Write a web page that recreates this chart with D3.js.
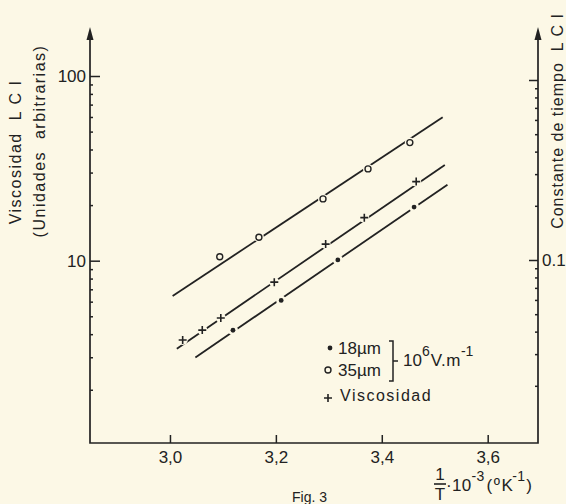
<!DOCTYPE html>
<html><head><meta charset="utf-8">
<script src="https://cdn.jsdelivr.net/npm/d3@7"></script>
<style>
html,body{margin:0;padding:0;background:#fcf8e6;}
svg{display:block;}
text{font-family:"Liberation Sans",Arial,sans-serif;fill:#222;white-space:pre;}
.tick text{font-size:17px;}
</style></head><body>
<svg id="c" width="566" height="504"></svg>
<script>
// ---- data ----
const xTicks = [3.0, 3.2, 3.4, 3.6];
const xTickLabels = ["3,0", "3,2", "3,4", "3,6"];
const yLeftMajor = [10, 100];
const yLeftMajorLabels = ["10", "100"];
const yLeftMinor = [2, 3, 4, 5, 6, 7, 8, 9, 20, 30, 40, 50, 60, 70, 80, 90];
const yRightMajor = [0.1, 1];
const yRightMajorLabels = ["0.1", ""];
const yRightMinor = [0.02, 0.03, 0.04, 0.05, 0.06, 0.07, 0.08, 0.09, 0.2, 0.3, 0.4, 0.5, 0.6, 0.7, 0.8, 0.9];

const viscX = [3.024, 3.061, 3.096, 3.197, 3.294, 3.367, 3.465];
const viscY = [3.72, 4.21, 4.89, 7.65, 12.3, 17.1, 26.8];
const um18X = [3.119, 3.210, 3.317, 3.461];
const um18Y = [4.20, 6.09, 10.1, 19.5];
const um35X = [3.094, 3.168, 3.289, 3.374, 3.453];
const um35Y = [10.5, 13.4, 21.6, 31.4, 43.6];

const fit35X = [3.005, 3.515], fit35Y = [6.44, 59.8];
const fitViscX = [3.013, 3.519], fitViscY = [3.34, 33.0];
const fit18X = [3.048, 3.524], fit18Y = [2.99, 25.8];

// ---- drawing ----
const BG = "#fcf8e6", INK = "#222";
const FONT = '"Liberation Sans", Arial, sans-serif';
const svg = d3.select("#c");
const x = d3.scaleLinear().domain([2.849, 3.695]).range([90, 538]);
const yL = d3.scaleLog().domain([1.03, 100]).range([443, 76]);
const yR = d3.scaleLog().domain([0.1, 1]).range([260, 80]);
const x0 = 90, x1 = 538, yB = 443, yTop = 27;

// axis lines
svg.append("path").attr("d", `M${x0},${yTop+6} V${yB} H${x1} V${yTop+6}`)
  .attr("fill", "none").attr("stroke", INK).attr("stroke-width", 1.7);
[x0, x1].forEach(px => {
  svg.append("path").attr("d", `M${px},${yTop} L${px-3.5},${yTop+13} L${px+3.5},${yTop+13} Z`).attr("fill", INK);
});

function styleAxis(g){
  g.attr("font-size", 17).attr("font-family", FONT);
  g.select(".domain").remove();
  g.selectAll(".tick line").attr("stroke", INK).attr("stroke-width", 1.5);
  g.selectAll(".tick text").attr("fill", INK).style("font-size", "17px");
}

// x axis
svg.append("g").attr("transform", `translate(0,${yB})`)
  .call(d3.axisBottom(x).tickValues(xTicks).tickSize(-8).tickPadding(8)
        .tickFormat((d, i) => xTickLabels[i]))
  .call(styleAxis);

// left axis
svg.append("g").attr("transform", `translate(${x0},0)`)
  .call(d3.axisLeft(yL).tickValues(yLeftMajor).tickSize(-10).tickPadding(4)
        .tickFormat((d, i) => yLeftMajorLabels[i]))
  .call(styleAxis);
svg.append("g").attr("transform", `translate(${x0},0)`)
  .call(d3.axisLeft(yL).tickValues(yLeftMinor).tickSize(-3).tickFormat(""))
  .call(styleAxis);

// right axis
svg.append("g").attr("transform", `translate(${x1},0)`)
  .call(d3.axisRight(yR).tickValues(yRightMajor).tickSize(-9).tickPadding(4)
        .tickFormat((d, i) => yRightMajorLabels[i]))
  .call(styleAxis);
svg.append("g").attr("transform", `translate(${x1},0)`)
  .call(d3.axisRight(yR).tickValues(yRightMinor).tickSize(-3).tickFormat(""))
  .call(styleAxis);

// fitted lines
const line = d3.line().x(d => x(d[0])).y(d => yL(d[1]));
[[fit35X, fit35Y], [fitViscX, fitViscY], [fit18X, fit18Y]].forEach(([xs, ys]) => {
  svg.append("path").datum(xs.map((v, i) => [v, ys[i]])).attr("d", line)
    .attr("fill", "none").attr("stroke", INK).attr("stroke-width", 1.8);
});

// halos
const allPts = [].concat(
  viscX.map((v, i) => [v, viscY[i]]),
  um18X.map((v, i) => [v, um18Y[i]]),
  um35X.map((v, i) => [v, um35Y[i]]));
svg.append("g").selectAll("circle").data(allPts).join("circle")
  .attr("cx", d => x(d[0])).attr("cy", d => yL(d[1])).attr("r", 5).attr("fill", BG);

// markers
svg.append("g").selectAll("path").data(viscX.map((v, i) => [v, viscY[i]])).join("path")
  .attr("d", d => { const cx = x(d[0]), cy = yL(d[1]); return `M${cx-4},${cy} H${cx+4} M${cx},${cy-4} V${cy+4}`; })
  .attr("stroke", INK).attr("stroke-width", 1.6);
svg.append("g").selectAll("circle").data(um18X.map((v, i) => [v, um18Y[i]])).join("circle")
  .attr("cx", d => x(d[0])).attr("cy", d => yL(d[1])).attr("r", 2.4).attr("fill", INK);
svg.append("g").selectAll("circle").data(um35X.map((v, i) => [v, um35Y[i]])).join("circle")
  .attr("cx", d => x(d[0])).attr("cy", d => yL(d[1])).attr("r", 3)
  .attr("fill", "none").attr("stroke", INK).attr("stroke-width", 1.4);

// axis titles
svg.append("text").attr("transform", "translate(21,152) rotate(-90)").attr("text-anchor", "middle")
  .style("font-size", "16px").style("letter-spacing", "1.5px").text("Viscosidad  L C I");
svg.append("text").attr("transform", "translate(45,141) rotate(-90)").attr("text-anchor", "middle")
  .style("font-size", "16px").style("letter-spacing", "1.5px").text("(Unidades  arbitrarias)");
svg.append("text").attr("transform", "translate(563,121) rotate(-90)").attr("text-anchor", "middle")
  .style("font-size", "16px").style("letter-spacing", "1px").text("Constante de tiempo  L C I");

// x axis title: 1/T ·10^-3 (ºK^-1)
const xt = svg.append("g").style("font-size", "17px");
xt.append("text").attr("x", 440).attr("y", 480).attr("text-anchor", "middle").text("1");
xt.append("line").attr("x1", 434).attr("x2", 446).attr("y1", 484).attr("y2", 484).attr("stroke", INK).attr("stroke-width", 1.6);
xt.append("text").attr("x", 440).attr("y", 500).attr("text-anchor", "middle").text("T");
const xl = xt.append("text").attr("x", 446).attr("y", 491).style("letter-spacing", "0.3px");
xl.append("tspan").text("·10");
xl.append("tspan").attr("dy", -10).style("font-size", "14px").text("-3");
xl.append("tspan").attr("dy", 10).attr("dx", 2).style("letter-spacing", "1.5px").text("(ºK");
xl.append("tspan").attr("dy", -10).attr("dx", -2).style("font-size", "14px").text("-1");
xl.append("tspan").attr("dy", 10).attr("dx", 1).text(")");

// legend
const lg = svg.append("g").style("font-size", "17px");
lg.append("circle").attr("cx", 330).attr("cy", 348).attr("r", 2.4).attr("fill", INK);
lg.append("text").attr("x", 338).attr("y", 354).text("18µm");
lg.append("circle").attr("cx", 328).attr("cy", 370).attr("r", 3).attr("fill", "none").attr("stroke", INK).attr("stroke-width", 1.4);
lg.append("text").attr("x", 338).attr("y", 376).text("35µm");
lg.append("path").attr("d", "M389,341 H393 V381 H389 M393,361 H398").attr("fill", "none").attr("stroke", INK).attr("stroke-width", 1.5);
const lt = lg.append("text").attr("x", 403).attr("y", 366);
lt.append("tspan").text("10");
lt.append("tspan").attr("dy", -10).style("font-size", "14px").text("6");
lt.append("tspan").attr("dy", 10).attr("dx", 1).style("letter-spacing", "0.5px").text("V.m");
lt.append("tspan").attr("dy", -10).style("font-size", "14px").text("-1");
lg.append("path").attr("d", "M324,398 H332 M328,394 V402").attr("stroke", INK).attr("stroke-width", 1.6);
lg.append("text").attr("x", 340).attr("y", 401).style("font-size", "16px").style("letter-spacing", "1.5px").text("Viscosidad");

// caption (at the bottom edge)
svg.append("text").attr("x", 292).attr("y", 502).style("font-size", "14px").text("Fig. 3");
</script>
</body></html>
